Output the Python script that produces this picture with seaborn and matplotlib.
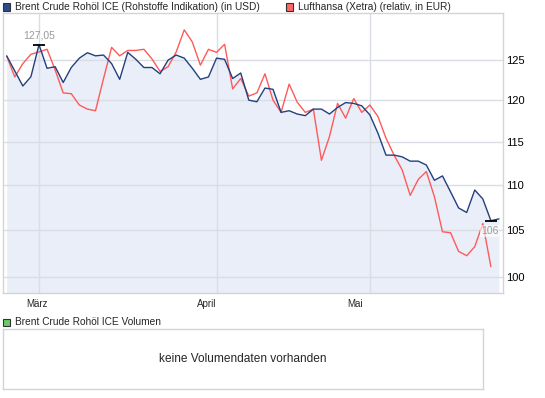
import numpy as np
import pandas as pd
import matplotlib
matplotlib.use("Agg")
import matplotlib.pyplot as plt
from matplotlib.patches import Rectangle
import seaborn as sns

# ---- data (trading-day index 0..61, Feb 24 - May 23) ----
brent = [125.58, 123.66, 121.76, 122.93, 127.05, 124.0, 124.2, 122.2, 124.1, 125.3,
         126.0, 125.6, 125.7, 124.6, 122.6, 126.05, 125.15, 124.1, 124.1, 123.3,
         125.05, 125.7, 125.3, 124.0, 122.6, 122.9, 125.3, 125.15, 122.7, 123.4,
         120.0, 119.8, 121.5, 121.35, 118.5, 118.7, 118.3, 118.1, 118.9, 118.9,
         118.3, 119.1, 119.7, 119.6, 119.3, 118.2, 116.0, 113.4, 113.4, 113.2,
         112.7, 112.7, 112.25, 110.5, 111.0, 109.2, 107.4, 106.9, 109.4, 108.4,
         106.0, 106.2]
lufthansa = [125.58, 122.9, 124.6, 125.8, 126.1, 126.45, 123.8, 120.9, 120.8, 119.4,
             118.9, 118.7, 122.7, 126.7, 125.6, 126.3, 126.3, 126.45, 125.2, 123.6,
             124.2, 126.1, 129.0, 127.4, 124.4, 126.45, 126.05, 127.1, 121.4, 122.7,
             120.5, 120.9, 123.3, 120.0, 118.5, 122.0, 119.75, 118.5, 118.9, 112.8,
             115.6, 119.6, 117.8, 120.2, 118.5, 119.4, 118.0, 115.4, 113.4, 111.7,
             108.8, 110.6, 111.5, 108.65, 104.8, 104.7, 102.7, 102.25, 103.2, 105.7,
             101.1]
month_labels = ["März", "April", "Mai"]
month_start_idx = [4, 26, 45]
month_label_pos = [3.75, 24.8, 43.2]
y_ticks = [100, 105, 110, 115, 120, 125]

legend_main = ["Brent Crude Rohöl ICE (Rohstoffe Indikation) (in USD)",
               "Lufthansa (Xetra) (relativ, in EUR)"]
legend_vol = "Brent Crude Rohöl ICE Volumen"
no_data_text = "keine Volumendaten vorhanden"

BLUE = "#23407e"
RED = "#ff5a5a"
FILL = "#e9eef9"
GRID = "#dadde4"
FRAME = "#d4d4d4"

sns.set_style("white")
plt.rcParams["font.family"] = ["Liberation Sans", "DejaVu Sans"]

df_b = pd.DataFrame({"i": np.arange(len(brent)), "v": brent})
df_l = pd.DataFrame({"i": np.arange(len(lufthansa)), "v": lufthansa})

fig = plt.figure(figsize=(5.45, 3.98), dpi=100)
W, H = 545, 398
ax = fig.add_axes([3 / W, 1 - 293 / H, 500 / W, 280 / H])

ymin, ymax = 98.4, 131.26
ax.set_yscale("log")
ax.set_ylim(ymin, ymax)
ax.set_xlim(-0.46, 61.5)

ax.fill_between(df_b["i"], df_b["v"], ymin, color=FILL, lw=0, zorder=1)
sns.lineplot(data=df_l, x="i", y="v", ax=ax, color=RED, lw=1.0, zorder=3)
sns.lineplot(data=df_b, x="i", y="v", ax=ax, color=BLUE, lw=1.0, zorder=4)

# grid
for yv in y_ticks:
    ax.axhline(yv, color=GRID, lw=1.0, zorder=2)
for xv in month_start_idx:
    ax.axvline(xv, color=GRID, lw=1.0, zorder=2)

ax.set_yticks(y_ticks)
ax.set_yticklabels([str(t) for t in y_ticks])
ax.yaxis.set_minor_locator(matplotlib.ticker.NullLocator())
ax.yaxis.tick_right()
ax.tick_params(axis="y", length=0, pad=2, labelsize=8, colors="black")
ax.set_xticks(month_label_pos)
ax.set_xticklabels(month_labels)
ax.tick_params(axis="x", length=0, pad=4, labelsize=7)
ax.set_xlabel("")
ax.set_ylabel("")
for s in ax.spines.values():
    s.set_color(FRAME)
    s.set_linewidth(1.0)

# max / min annotations
bi = np.array(brent)
imax, imin = int(np.argmax(bi)), int(np.argmin(bi))
def fmt(v):
    s = f"{v:.2f}".rstrip("0").rstrip(".")
    return s.replace(".", ",")
ax.plot([imax], [bi[imax]], marker="_", ms=9, mew=1.3, color="black", zorder=5)
ax.annotate(fmt(bi[imax]), (imax, bi[imax]), xytext=(0, 3), textcoords="offset points",
            ha="center", va="bottom", fontsize=7.5, color="#999999", zorder=6)
ax.plot([imin], [bi[imin]], marker="_", ms=9, mew=1.3, color="black", zorder=5)
ax.annotate(fmt(bi[imin]), (imin, bi[imin]), xytext=(-1, -4), textcoords="offset points",
            ha="center", va="top", fontsize=7.5, color="#999999", zorder=6,
            bbox=dict(boxstyle="square,pad=0.1", fc="white", ec="none", alpha=0.6))

# legends (top)
def legend_item(x, y, color, text):
    fig.patches.append(Rectangle((x / W, 1 - (y + 4) / H), 7 / W, 7 / H,
                                 transform=fig.transFigure, fc=color, ec="#333333", lw=0.8))
    fig.text((x + 12) / W, 1 - y / H, text, ha="left", va="center", fontsize=7.3)

legend_item(3, 6.5, "#2d4a8a", legend_main[0])
legend_item(286, 6.5, "#ff6666", legend_main[1])
legend_item(3, 322, "#66cc66", legend_vol)

# volume box
axv = fig.add_axes([3 / W, 1 - 389 / H, 480 / W, 60 / H])
axv.set_xticks([])
axv.set_yticks([])
for s in axv.spines.values():
    s.set_color(FRAME)
    s.set_linewidth(1.0)
axv.text(0.5, 0.5, no_data_text, ha="center", va="center", fontsize=8.6,
         transform=axv.transAxes)

fig.savefig("out.png", dpi=100)
